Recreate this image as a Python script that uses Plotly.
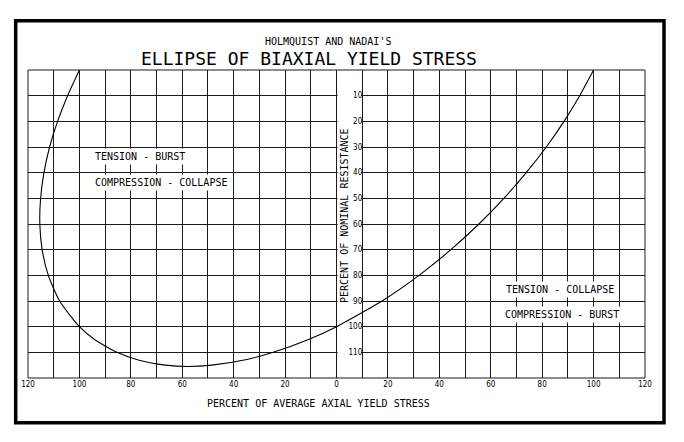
import plotly.graph_objects as go

# Curve: x = percent of average axial yield stress
# (left side = compression, shown as negative), y = percent of nominal resistance
curve_x = [-100.0, -104.6, -108.5, -111.6, -113.8, -115.1, -115.4, -114.5, -112.1,
           -107.7, -100.0, -94.1, -85.4, -77.1, -66.5, -57.7, -48.5, -35.9, -24.6,
           -10.9, 0.0, 17.7, 32.1, 44.5, 55.4, 65.1, 73.8, 81.6, 88.5, 94.6, 100.0]
curve_y = [0, 10, 20, 30, 40, 50, 60, 70, 80,
           90, 100, 105, 110, 113, 115, 115.5, 115, 113, 110,
           105, 100, 90, 80, 70, 60, 50, 40, 30, 20, 10, 0]

x_tick_vals = list(range(-120, 121, 10))
x_tick_text = [str(abs(v)) if v % 20 == 0 else "" for v in x_tick_vals]
y_tick_vals = list(range(0, 121, 10))
y_tick_text = ["" if v in (0, 120) else str(v) for v in y_tick_vals]

MONO = "DejaVu Sans Mono"
NARROW = "Liberation Sans Narrow, DejaVu Sans Condensed, Arial Narrow, sans-serif"

fig = go.Figure()
fig.add_trace(go.Scatter(x=curve_x, y=curve_y, mode="lines",
                         line=dict(color="black", width=1.1, shape="spline", smoothing=0.6),
                         hoverinfo="skip", showlegend=False))

fig.update_layout(
    width=684, height=442,
    margin=dict(l=28, r=39, t=70, b=64),
    paper_bgcolor="white", plot_bgcolor="white",
    showlegend=False,
    xaxis=dict(range=[-120, 120], tickvals=x_tick_vals, ticktext=x_tick_text,
               showgrid=True, gridcolor="#1a1a1a", gridwidth=1, zeroline=False,
               showline=False, ticks="", tickfont=dict(family=NARROW, size=8, color="black"),
               fixedrange=True),
    yaxis=dict(range=[120, 0], tickvals=y_tick_vals, ticktext=y_tick_text,
               showgrid=True, gridcolor="#1a1a1a", gridwidth=1, zeroline=False,
               showline=False, ticks="", anchor="free", position=130 / 240, side="left",
               tickfont=dict(family=NARROW, size=8, color="black"), fixedrange=True),
)

# white column between the 0 and 10 verticals holding the y labels/title
fig.add_shape(type="rect", xref="x", yref="y", x0=0.45, x1=9.55, y0=0.4, y1=119.6,
              fillcolor="white", line=dict(width=0), layer="between")
# plot area border
fig.add_shape(type="rect", xref="paper", yref="paper", x0=0, x1=1, y0=0, y1=1,
              line=dict(color="#1a1a1a", width=1))
# outer frame
fig.add_shape(type="rect", xref="paper", yref="paper",
              x0=(15.7 - 28) / 617, x1=(664 - 28) / 617,
              y0=(378 - 422.7) / 308, y1=(378 - 20.7) / 308,
              line=dict(color="black", width=3.5))

anns = [
    dict(text="HOLMQUIST AND NADAI'S", x=(327.5 - 28) / 617, y=(378 - 41) / 308,
         size=10),
    dict(text="ELLIPSE OF BIAXIAL YIELD STRESS", x=(308.5 - 28) / 617, y=(378 - 58.5) / 308,
         size=18),
    dict(text="PERCENT OF AVERAGE AXIAL YIELD STRESS", x=(318 - 28) / 617, y=(378 - 403) / 308,
         size=10),
]
for a in anns:
    fig.add_annotation(text=a["text"], x=a["x"], y=a["y"], xref="paper", yref="paper",
                       xanchor="center", yanchor="middle", showarrow=False,
                       font=dict(family=MONO, size=a["size"], color="black"))

fig.add_annotation(text="PERCENT OF NOMINAL RESISTANCE", x=2.9, y=56.5, xref="x", yref="y",
                   textangle=-90, showarrow=False, xanchor="center", yanchor="middle",
                   font=dict(family=MONO, size=10, color="black"))

labels = [
    ("TENSION - BURST", -95.2, 33.8),
    ("COMPRESSION - COLLAPSE", -95.1, 43.9),
    ("TENSION - COLLAPSE", 64.6, 85.7),
    ("COMPRESSION - BURST", 64.2, 95.4),
]
for t, x, y in labels:
    fig.add_annotation(text=t, x=x, y=y, xref="x", yref="y", xanchor="left",
                       yanchor="middle", showarrow=False, bgcolor="white", borderpad=2,
                       font=dict(family=MONO, size=10, color="black"))

fig.write_html("out.html")
